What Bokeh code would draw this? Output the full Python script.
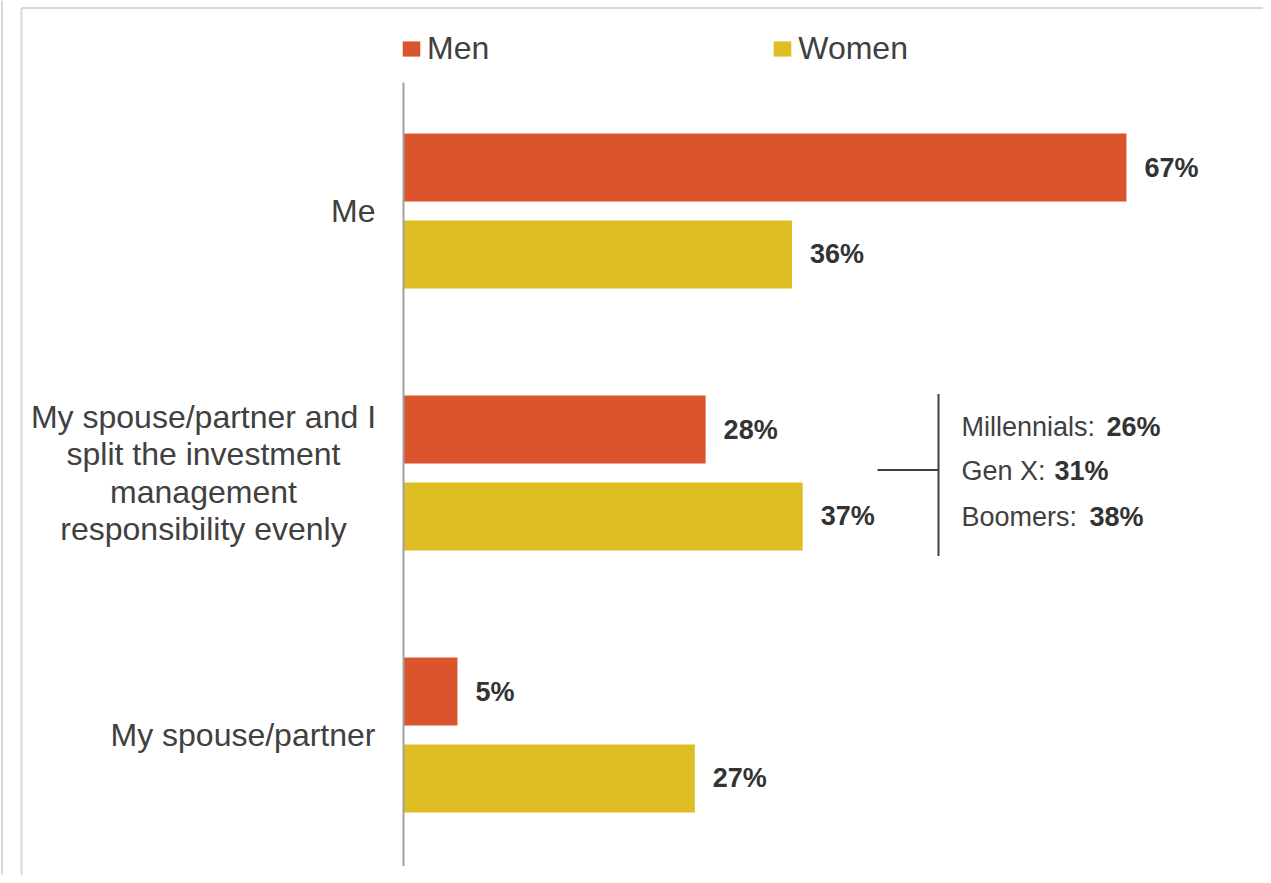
from bokeh.plotting import figure
from bokeh.models import ColumnDataSource, Range1d, Legend, LegendItem
from bokeh.core.properties import value
from bokeh.embed import file_html
from bokeh.resources import INLINE

# ---------------- data ----------------
categories = [
    "Me",
    "My spouse/partner and I\nsplit the investment\nmanagement\nresponsibility evenly",
    "My spouse/partner",
]
series = ["Men", "Women"]
men = [67, 28, 5]
women = [36, 37, 27]
colors = ["#DA552E", "#DEBE22"]
generations = ["Millennials:", "Gen X:", "Boomers:"]
gen_values = [26, 31, 38]

# ---------------- layout constants (pixels) ----------------
W, H = 1263, 875
PX_PER_PCT = 10.79         # horizontal scale
AXIS_PX = 403              # pixel x of value 0
PX_PER_CAT = 262.0         # vertical spacing between categories
TOP_CAT_PX = 210.5         # pixel y of the first category centre
FONT_NAME = "Liberation Sans"
FONT = value(FONT_NAME)

x_start = -AXIS_PX / PX_PER_PCT
x_end = x_start + W / PX_PER_PCT
ypos = [len(categories) - 1 - i for i in range(len(categories))]
y_end = ypos[0] + TOP_CAT_PX / PX_PER_CAT
y_start = y_end - H / PX_PER_CAT

def X(pxpos):    # pixel x -> data
    return (pxpos - AXIS_PX) / PX_PER_PCT

def Y(pypos):    # pixel y -> data
    return y_end - pypos / PX_PER_CAT

def px(dx):
    return dx / PX_PER_PCT

def py(dy):
    return dy / PX_PER_CAT

OFF = 0.166
BAR_H = 0.26

men_src = ColumnDataSource(dict(
    y=[v + OFF for v in ypos], value=men, label=[f"{v}%" for v in men]))
women_src = ColumnDataSource(dict(
    y=[v - OFF for v in ypos], value=women, label=[f"{v}%" for v in women]))

p = figure(width=W, height=H, output_backend="svg", toolbar_location=None,
           x_range=Range1d(x_start, x_end), y_range=Range1d(y_start, y_end),
           min_border_left=0, min_border_right=0, min_border_top=0,
           min_border_bottom=0)
p.axis.visible = False
p.grid.visible = False
p.outline_line_color = None
p.background_fill_color = "white"
p.border_fill_color = "white"

# page line and chart border (top and left)
p.segment(x0=[X(1.5), X(21), X(21)], y0=[y_start, y_start, Y(7.5)],
          x1=[X(1.5), X(21), x_end], y1=[y_end, Y(7.5), Y(7.5)],
          line_color="#D9D9D9", line_width=2)

r_men = p.hbar(y="y", left=0, right="value", height=BAR_H, source=men_src,
               fill_color=colors[0], line_color=None)
r_women = p.hbar(y="y", left=0, right="value", height=BAR_H, source=women_src,
                 fill_color=colors[1], line_color=None)

# axis line
p.segment(x0=[0], y0=[ypos[-1] - 0.5], x1=[0], y1=[ypos[0] + 0.49],
          line_color="#A0A0A0", line_width=2)

# value labels
for src in (men_src, women_src):
    p.text(x="value", y="y", text="label", source=src, x_offset=18,
           text_align="left", text_baseline="middle", text_font=FONT,
           text_font_style="bold", text_font_size="27px", text_color="#333333")

# category labels
cat_font = "32px"
p.text(x=[0, 0], y=[ypos[0], ypos[2]], text=[categories[0], categories[2]],
       x_offset=-28, text_align="right", text_baseline="middle", text_font=FONT,
       text_font_size=cat_font, text_color="#404040")
p.text(x=[0], y=[ypos[1]], text=[categories[1]], x_offset=-200,
       text_align="center", text_baseline="middle", text_font=FONT,
       text_font_size=cat_font, text_color="#404040", text_line_height=1.04)

# generation annotation bracket
cy = ypos[1]
bx = X(938)
p.segment(x0=[bx, X(877)], y0=[cy + py(79), cy + py(3)],
          x1=[bx, bx], y1=[cy - py(83), cy + py(3)],
          line_color="#404040", line_width=2)
gen_dy = [-46.5, -2, 44]
bold_dx = [1106 - 938, 1054 - 938, 1089 - 938]
for name, val, dy, bdx in zip(generations, gen_values, gen_dy, bold_dx):
    p.text(x=[bx], y=[cy], text=[name], x_offset=23, y_offset=dy,
           text_align="left", text_baseline="middle", text_font=FONT,
           text_font_size="27px", text_color="#404040")
    p.text(x=[bx], y=[cy], text=[f"{val}%"], x_offset=bdx, y_offset=dy,
           text_align="left", text_baseline="middle", text_font=FONT,
           text_font_style="bold", text_font_size="27px", text_color="#333333")

legend = Legend(items=[LegendItem(label=series[0], renderers=[r_men]),
                       LegendItem(label=series[1], renderers=[r_women])],
                location=(400, 808), orientation="horizontal", spacing=282,
                padding=0, margin=0, border_line_color=None,
                background_fill_alpha=0, glyph_width=22, glyph_height=19,
                label_standoff=5, label_text_font=FONT_NAME,
                label_text_font_size="32px", label_text_color="#404040")
p.add_layout(legend)

open("out.html", "w").write(file_html(p, INLINE))
